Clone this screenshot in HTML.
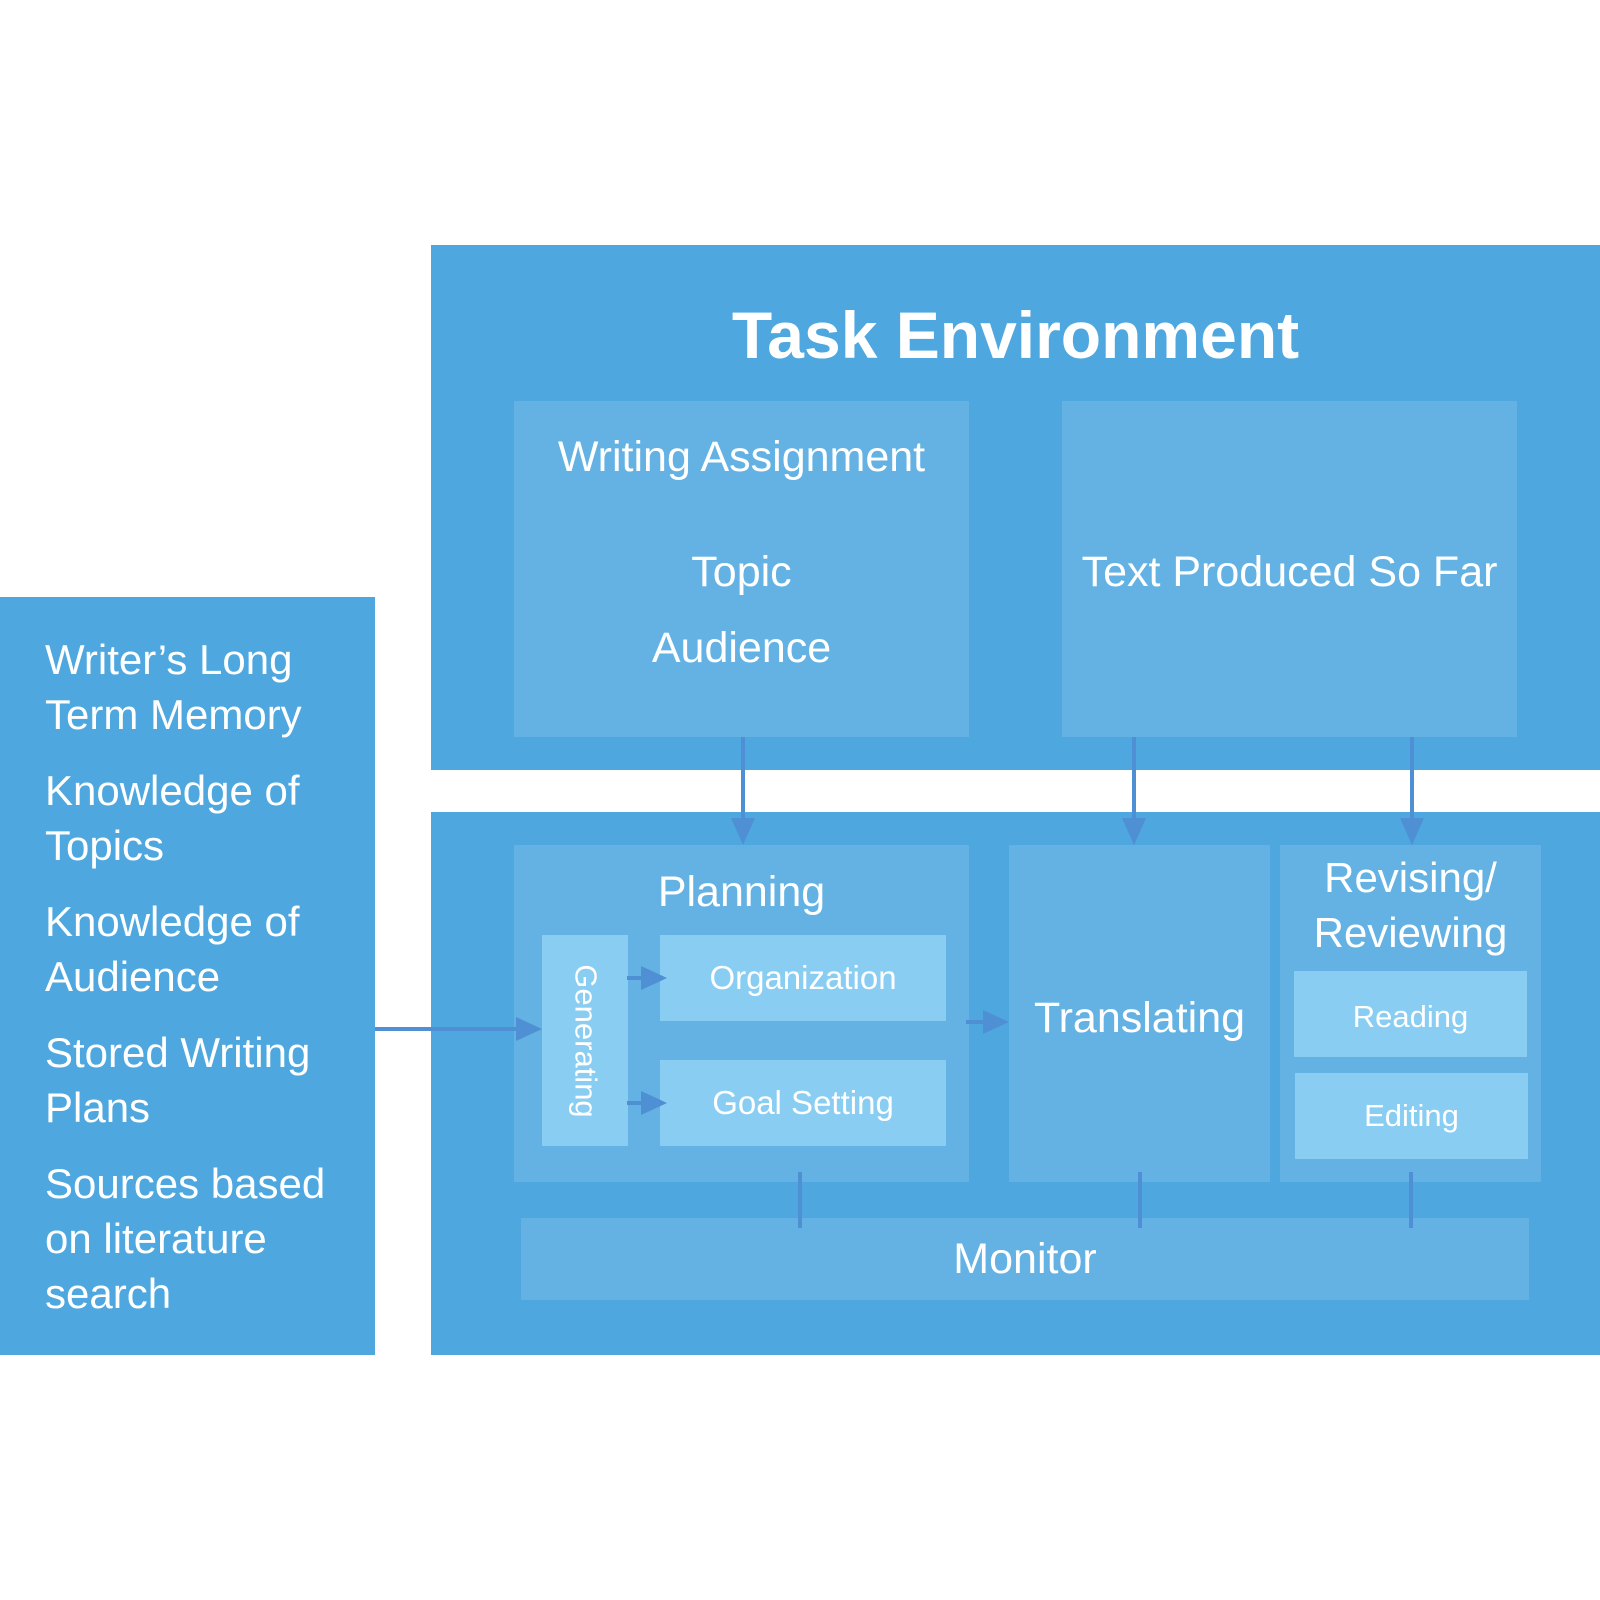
<!DOCTYPE html>
<html><head><style>
body{margin:0;width:1600px;height:1600px;background:#fff;position:relative;overflow:hidden;font-family:"Liberation Sans",sans-serif;color:#fff}
div{position:absolute;box-sizing:border-box}
.o{background:#4ea8df}.m{background:#63b2e3}.l{background:#89cdf3}
.c{display:flex;align-items:center;justify-content:center;text-align:center}
</style></head><body>
<div class="o" style="left:0;top:597px;width:375px;height:758px"></div>
<div style="left:45px;top:632px;font-size:42px;line-height:55px">Writer’s Long<br>Term Memory</div>
<div style="left:45px;top:763px;font-size:42px;line-height:55px">Knowledge of<br>Topics</div>
<div style="left:45px;top:894px;font-size:42px;line-height:55px">Knowledge of<br>Audience</div>
<div style="left:45px;top:1025px;font-size:42px;line-height:55px">Stored Writing<br>Plans</div>
<div style="left:45px;top:1156px;font-size:42px;line-height:55px">Sources based<br>on literature<br>search</div>

<div class="o" style="left:431px;top:245px;width:1169px;height:525px"></div>
<div class="c" style="left:431px;top:295px;width:1169px;height:80px;font-size:66px;font-weight:bold">Task Environment</div>
<div class="m" style="left:514px;top:401px;width:455px;height:336px"></div>
<div class="c" style="left:514px;top:427px;width:455px;height:60px;font-size:43px">Writing Assignment</div>
<div class="c" style="left:514px;top:542px;width:455px;height:60px;font-size:43px">Topic</div>
<div class="c" style="left:514px;top:618px;width:455px;height:60px;font-size:43px">Audience</div>
<div class="m" style="left:1062px;top:401px;width:455px;height:336px"></div>
<div class="c" style="left:1062px;top:542px;width:455px;height:60px;font-size:43px">Text Produced So Far</div>

<div class="o" style="left:431px;top:812px;width:1169px;height:543px"></div>
<div class="m" style="left:514px;top:845px;width:455px;height:337px"></div>
<div class="c" style="left:514px;top:862px;width:455px;height:60px;font-size:43px">Planning</div>
<div class="l" style="left:542px;top:935px;width:86px;height:211px"></div>
<div class="c" style="left:480px;top:998px;width:211px;height:86px;font-size:31px;transform:rotate(90deg)">Generating</div>
<div class="l c" style="left:660px;top:935px;width:286px;height:86px;font-size:33px">Organization</div>
<div class="l c" style="left:660px;top:1060px;width:286px;height:86px;font-size:33px">Goal Setting</div>
<div class="m c" style="left:1009px;top:845px;width:261px;height:337px;font-size:43px;padding-top:10px">Translating</div>
<div class="m" style="left:1280px;top:845px;width:261px;height:337px"></div>
<div class="c" style="left:1280px;top:850px;width:261px;height:110px;font-size:42px;line-height:55px">Revising/<br>Reviewing</div>
<div class="l c" style="left:1294px;top:971px;width:233px;height:86px;font-size:31px;padding-top:6px">Reading</div>
<div class="l c" style="left:1295px;top:1073px;width:233px;height:86px;font-size:31px">Editing</div>
<div class="m c" style="left:521px;top:1218px;width:1008px;height:82px;font-size:43px">Monitor</div>

<svg style="position:absolute;left:0;top:0" width="1600" height="1600">
<g stroke="#4f8fd3" stroke-width="4" fill="#4f8fd3">
<line x1="743" y1="737" x2="743" y2="822"/><polygon points="731,818 755,818 743,845" stroke="none"/>
<line x1="1134" y1="737" x2="1134" y2="822"/><polygon points="1122,818 1146,818 1134,845" stroke="none"/>
<line x1="1412" y1="737" x2="1412" y2="822"/><polygon points="1400,818 1424,818 1412,845" stroke="none"/>
<line x1="375" y1="1029" x2="520" y2="1029"/><polygon points="516,1017 516,1041 542,1029" stroke="none"/>
<line x1="627" y1="978" x2="645" y2="978"/><polygon points="641,966 641,990 667,978" stroke="none"/>
<line x1="627" y1="1103" x2="645" y2="1103"/><polygon points="641,1091 641,1115 667,1103" stroke="none"/>
<line x1="966" y1="1022" x2="987" y2="1022"/><polygon points="983,1010 983,1034 1009,1022" stroke="none"/>
<line x1="800" y1="1172" x2="800" y2="1228"/>
<line x1="1140" y1="1172" x2="1140" y2="1228"/>
<line x1="1411" y1="1172" x2="1411" y2="1228"/>
</g></svg>
</body></html>
